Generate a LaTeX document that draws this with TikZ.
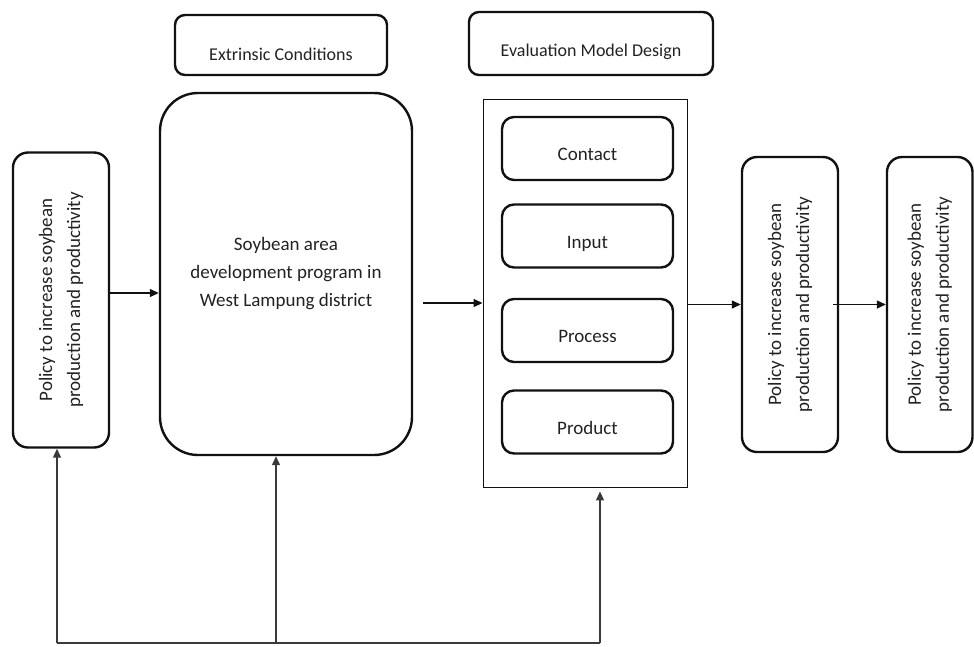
\documentclass[tikz,border=0pt]{standalone}
\usepackage{fontspec}
\setmainfont{Carlito}
\usetikzlibrary{arrows.meta, calc}
\definecolor{cline}{HTML}{111111}
\definecolor{cfeed}{HTML}{3A3A3A}
\definecolor{ctext}{HTML}{222222}
\tikzset{
  every picture/.style={font=\fontsize{19}{28}\selectfont, line width=1.4pt},
  box/.style={draw=cline, text=ctext, line width=2.4pt, rounded corners=#1, align=center, inner sep=0pt},
  box/.default=12pt,
  policy/.style={box=15pt, rotate=90, minimum width=295pt, minimum height=96pt},
  header/.style={box=10pt, font=\fontsize{18}{22}\selectfont, text height=30pt, text depth=0pt},
  stage/.style={box=12pt, minimum width=171pt, minimum height=63pt, text height=24pt, text depth=0pt},
  outerframe/.style={draw=cline, line width=0.9pt, inner sep=0pt},
  arrow/.style={-{Triangle[length=9pt, width=8pt]}, draw=cline, line width=1.3pt},
  feed/.style={draw=cfeed, line width=1.3pt},
}

\begin{document}
\begin{tikzpicture}[x=1pt, y=-1pt]
  \useasboundingbox (0,0) rectangle (974,646);
  \node[header, minimum width=212pt, minimum height=60pt] (extr) at (281,45) {Extrinsic Conditions};
  \node[header, minimum width=244pt, minimum height=63pt, text height=25pt] (evalhd) at (591,43.5) {Evaluation Model Design};
  \node[policy] (pol1) at (61,300) {Policy to increase soybean\\production and productivity};
  \node[box=38pt, minimum width=252pt, minimum height=362pt] (area) at (286,274) {Soybean area\\development program in\\West Lampung district};
  \node[outerframe, minimum width=204pt, minimum height=388pt] (eval) at (585,293) {};
  \foreach \name/\txt/\y in {contact/Contact/148.5, input/Input/236, process/Process/330.5, product/Product/422}
    \node[stage] (\name) at (587.5,\y) {\txt};
  \node[policy] (pol2) at (790,304.5) {Policy to increase soybean\\production and productivity};
  \node[policy, minimum height=85.5pt] (pol3) at (929.75,304.5) {Policy to increase soybean\\production and productivity};
  \coordinate (gap) at (423,303);
  \coordinate (fb1) at (57,643);
  \coordinate (fb2) at (276,643);
  \coordinate (fb3) at (600,643);
  \draw[arrow] (pol1.south |- 0,293) -- (area.west |- 0,293);
  \draw[arrow] (gap) -- (gap -| eval.west);
  \draw[arrow] (eval.east |- pol2.north) -- (pol2.north);
  \draw[arrow] ([xshift=-6pt]pol2.south) -- (pol3.north);
  \draw[feed] (fb1) -- (fb3);
  \draw[arrow, draw=cfeed] (fb1) -- (pol1.west -| fb1);
  \draw[arrow, draw=cfeed] (fb2) -- (area.south -| fb2);
  \draw[arrow, draw=cfeed, shorten >=4pt] (fb3) -- (eval.south -| fb3);
\end{tikzpicture}
\end{document}
